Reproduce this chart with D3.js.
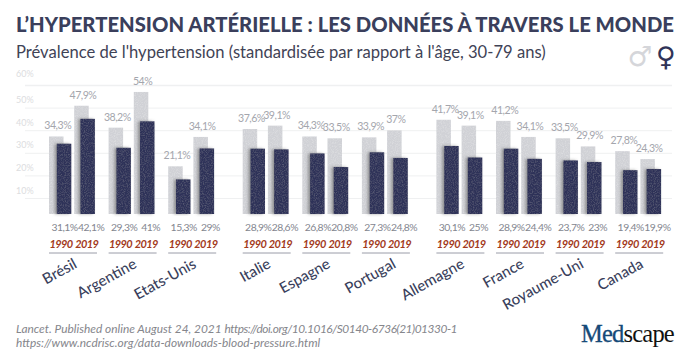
<!DOCTYPE html>
<html>
<head>
<meta charset="utf-8">
<script src="https://cdn.jsdelivr.net/npm/d3@7"></script>
<style>
  body { margin: 0; background: #fff; }
  svg { display: block; font-family: Lato, "Open Sans", sans-serif; }
</style>
</head>
<body>
<div id="viz"></div>
<script>
const countries = ["Brésil", "Argentine", "Etats-Unis", "Italie", "Espagne", "Portugal", "Allemagne", "France", "Royaume-Uni", "Canada"];
const blocs = [0, 0, 0, 1, 1, 1, 2, 2, 2, 2];
const years = ["1990", "2019"];
const men1990 = [34.3, 38.2, 21.1, 37.6, 34.3, 33.9, 41.7, 41.2, 33.5, 27.8];
const men2019 = [47.9, 54, 34.1, 39.1, 33.5, 37, 39.1, 34.1, 29.9, 24.3];
const women1990 = [31.1, 29.3, 15.3, 28.9, 26.8, 27.3, 30.1, 28.9, 23.7, 19.4];
const women2019 = [42.1, 41, 29, 28.6, 20.8, 24.8, 25, 24.4, 23, 19.9];
const gridTicks = [10, 20, 30, 40, 50, 60];

const width = 690;
const height = 361;

const svg = d3.select("#viz")
  .append("svg")
  .attr("width", width)
  .attr("height", height)
  .attr("viewBox", `0 0 ${width} ${height}`);

const defs = svg.append("defs");

// grainy look of the bars
function grainFilter(id, amount, shadow) {
  const f = defs.append("filter").attr("id", id)
    .attr("x", "-40%").attr("width", "180%").attr("y", "-5%").attr("height", "110%");
  f.append("feTurbulence")
    .attr("type", "fractalNoise").attr("baseFrequency", 0.9).attr("numOctaves", 2).attr("seed", 4)
    .attr("result", "noise");
  f.append("feColorMatrix").attr("in", "noise").attr("type", "matrix")
    .attr("values", `0 0 0 0 ${shadow ? 0.75 : 1}  0 0 0 0 ${shadow ? 0.78 : 1}  0 0 0 0 ${shadow ? 0.9 : 1}  ${amount} 0 0 0 ${-amount * 0.42}`)
    .attr("result", "specks");
  f.append("feComposite").attr("in", "specks").attr("in2", "SourceAlpha").attr("operator", "in").attr("result", "clipped");
  if (shadow) {
    f.append("feGaussianBlur").attr("in", "SourceAlpha").attr("stdDeviation", 1.7).attr("result", "blur");
    f.append("feOffset").attr("in", "blur").attr("dx", -2).attr("result", "off");
    f.append("feFlood").attr("flood-color", "#555").attr("flood-opacity", 0.55);
    f.append("feComposite").attr("in2", "off").attr("operator", "in").attr("result", "drop");
  } else {
    f.append("feGaussianBlur").attr("in", "SourceGraphic").attr("stdDeviation", 0.6).attr("result", "drop");
  }
  const merge = f.append("feMerge");
  merge.append("feMergeNode").attr("in", "drop");
  if (shadow) merge.append("feMergeNode").attr("in", "SourceGraphic");
  merge.append("feMergeNode").attr("in", "clipped");
}
grainFilter("soft", 0.6, false);
grainFilter("shade", 0.22, true);

// slot position: each country is one slot, blocs are pushed apart by a quarter
const slot = i => i + blocs[i] * 0.25;
const x = d3.scaleLinear().domain([0, 9.5]).range([49, 615.2]);
const year = d3.scaleBand().domain(years).range([0, 50.4]).paddingInner(0.0);

// bars were drawn from 214, the gridlines sit on their own scale in the original
const y = d3.scaleLinear().domain([0, 60]).range([214, 78.4]);
const yGrid = d3.scaleLinear().domain([10, 60]).range([198, 85]);

const barW = 14.5;
const darkOffset = { "1990": 7.8, "2019": 6.2 };
const womenLabelShift = { "1990": 0.5, "2019": 3.5 };

const title = svg.append("g");
title.append("text")
  .attr("x", 16).attr("y", 32)
  .attr("font-size", 20.25).attr("font-weight", 900)
  .attr("fill", "#3a3f5c")
  .text("L’HYPERTENSION ARTÉRIELLE : LES DONNÉES À TRAVERS LE MONDE");
title.append("text")
  .attr("x", 16).attr("y", 58)
  .attr("font-size", 16.6).attr("font-weight", 400)
  .attr("fill", "#3f4356")
  .text("Prévalence de l'hypertension (standardisée par rapport à l'âge, 30-79 ans)");

// gender symbols
svg.append("text")
  .attr("x", 640).attr("y", 66)
  .attr("text-anchor", "middle")
  .attr("font-family", "DejaVu Sans").attr("font-size", 28)
  .attr("fill", "#d5d6da")
  .text("♂");
svg.append("text")
  .attr("x", 666).attr("y", 66)
  .attr("text-anchor", "middle")
  .attr("font-family", "DejaVu Sans").attr("font-size", 27).attr("font-weight", "bold")
  .attr("fill", "#2f3358")
  .text("♀");

// gridlines and their labels
const axis = svg.append("g")
  .attr("transform", "translate(25,0)")
  .call(d3.axisLeft(yGrid).tickValues(gridTicks).tickSize(-647).tickPadding(0).tickFormat(d => d + "%"));
axis.select(".domain").remove();
axis.selectAll("line")
  .attr("stroke", "#eff0f1")
  .attr("stroke-width", d => d === 60 ? 1.6 : 1);
axis.selectAll("text")
  .attr("x", -9)
  .attr("dy", d => d === 60 ? -8.5 : -5)
  .attr("text-anchor", "start")
  .attr("font-family", "Lato")
  .attr("font-size", 9)
  .attr("fill", "#dcdde0");

const fmt = v => d3.format(".1f")(v).replace(/\.0$/, "").replace(".", ",") + "%";

const rows = countries.flatMap((c, i) => years.map((yr, j) => ({
  country: i,
  year: yr,
  men: (j ? men2019 : men1990)[i],
  women: (j ? women2019 : women1990)[i],
})));

const barX = d => x(slot(d.country)) + year(d.year);

svg.append("g").selectAll("rect")
  .data(rows)
  .enter()
  .append("rect")
  .attr("x", barX)
  .attr("y", d => y(d.men))
  .attr("width", barW)
  .attr("height", d => y(0) - y(d.men))
  .attr("fill", "#d0d1d6")
  .attr("filter", "url(#soft)");

svg.append("g").selectAll("rect")
  .data(rows)
  .enter()
  .append("rect")
  .attr("x", d => barX(d) + darkOffset[d.year])
  .attr("y", d => y(d.women))
  .attr("width", barW)
  .attr("height", d => y(0) - y(d.women))
  .attr("fill", "#2f3358")
  .attr("filter", "url(#shade)");

svg.append("g").selectAll("text")
  .data(rows)
  .enter()
  .append("text")
  .attr("x", d => barX(d) + barW / 2 + 1.5)
  .attr("y", d => y(d.men) - 7)
  .attr("text-anchor", "middle")
  .attr("font-size", 10.6).attr("letter-spacing", -0.5)
  .attr("fill", "#a4a6ad")
  .text(d => fmt(d.men));

svg.append("g").selectAll("text")
  .data(rows)
  .enter()
  .append("text")
  .attr("x", d => barX(d) + darkOffset[d.year] + barW / 2 + womenLabelShift[d.year])
  .attr("y", 231)
  .attr("text-anchor", "middle")
  .attr("font-size", 10.4).attr("letter-spacing", -0.5)
  .attr("fill", "#83868f")
  .text(d => fmt(d.women));

svg.append("g").selectAll("text")
  .data(rows)
  .enter()
  .append("text")
  .attr("x", d => barX(d) + (d.year === "1990" ? 12 : 12.5))
  .attr("y", 248)
  .attr("text-anchor", "middle")
  .attr("font-size", 11).attr("font-style", "italic").attr("font-weight", 700)
  .attr("letter-spacing", -0.6)
  .attr("fill", "#a33a1c")
  .text(d => d.year);

const groups = svg.append("g").selectAll("g")
  .data(countries)
  .enter()
  .append("g")
  .attr("transform", (d, i) => `translate(${x(slot(i))},0)`);

groups.append("line")
  .attr("x1", 0).attr("x2", 48)
  .attr("y1", 253).attr("y2", 253)
  .attr("stroke", "#9a9ca8").attr("stroke-width", 1);

// Portugal sits further right under its bars in the original
groups.append("text")
  .attr("text-anchor", "end")
  .attr("transform", d => `translate(${d === "Portugal" ? 35 : 29},267) rotate(-29)`)
  .attr("font-size", 15).attr("font-weight", 500)
  .attr("fill", "#3a3f5c")
  .text(d => d);

// source lines
const source = svg.append("g")
  .attr("font-size", 11.9).attr("font-style", "italic")
  .attr("font-family", "Lato")
  .attr("fill", "#85868c");
const first = source.append("text").attr("x", 16).attr("y", 333);
first.append("tspan").text("Lancet. Published online August 24, 2021 ");
first.append("tspan").attr("letter-spacing", -0.45).text("https://doi.org/10.1016/S0140-6736(21)01330-1");
source.append("text").attr("x", 16).attr("y", 347)
  .text("https://www.ncdrisc.org/data-downloads-blood-pressure.html");

// logo
const logo = svg.append("text")
  .attr("x", 581).attr("y", 342)
  .attr("font-family", "Liberation Serif")
  .attr("font-size", 24.5).attr("letter-spacing", -0.8);
logo.append("tspan").attr("fill", "#164a78").attr("stroke", "#164a78").attr("stroke-width", 0.3).text("Med");
logo.append("tspan").attr("fill", "#111").text("scape");
</script>
</body>
</html>
